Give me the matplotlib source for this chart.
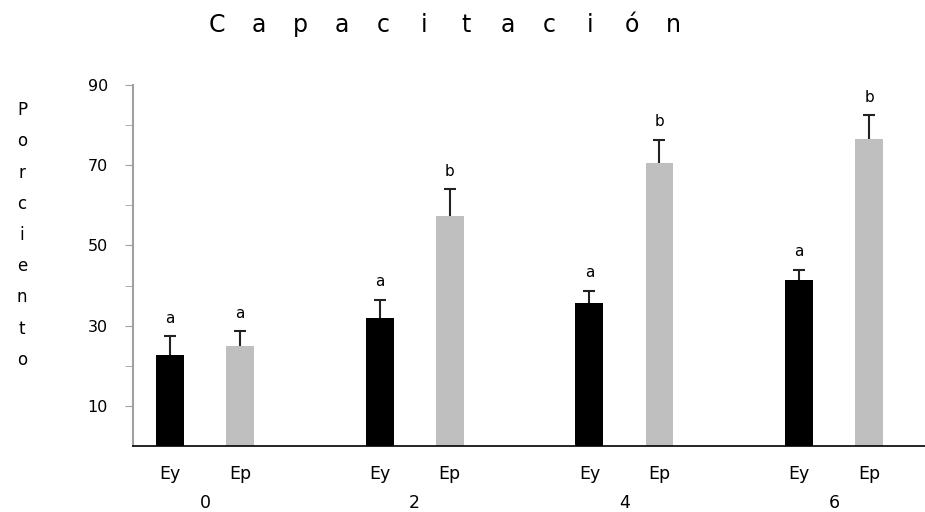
import numpy as np
import matplotlib.pyplot as plt

plt.rcParams['font.family'] = ['DejaVu Sans']

groups = ['0', '2', '4', '6']
ey_vals = [22.8, 31.8, 35.7, 41.5]
ep_vals = [24.9, 57.4, 70.6, 76.5]
ey_err = [4.5, 4.7, 3.0, 2.4]
ep_err = [3.7, 6.6, 5.8, 5.9]
ey_sig = ['a', 'a', 'a', 'a']
ep_sig = ['a', 'b', 'b', 'b']
title = 'Capacitación'
ylabel = 'Porciento'

fig = plt.figure(figsize=(9.25, 5.12), dpi=100)
ax = fig.add_axes([133/925, 1 - 446/512, 1 - 133/925, (446 - 85)/512])

x = np.arange(len(groups))
off = 0.167
w = 0.133
ax.bar(x - off, ey_vals, w, color='black', zorder=2)
ax.bar(x + off, ep_vals, w, color='#bfbfbf', zorder=2)
for xs, vals, errs in [(x - off, ey_vals, ey_err), (x + off, ep_vals, ep_err)]:
    eb = ax.errorbar(xs, vals, yerr=[np.zeros(4), errs], fmt='none',
                     ecolor='#222222', elinewidth=1.5, capsize=4.5,
                     capthick=1.5, zorder=1)
    eb[1][0].set_visible(False)

for xi, v, e, s in zip(x - off, ey_vals, ey_err, ey_sig):
    ax.annotate(s, (xi, v + e), xytext=(0, 13), textcoords='offset points',
                ha='center', va='center', fontsize=11)
for xi, v, e, s in zip(x + off, ep_vals, ep_err, ep_sig):
    ax.annotate(s, (xi, v + e), xytext=(0, 13), textcoords='offset points',
                ha='center', va='center', fontsize=11)

ax.set_xlim(-0.343, 3.433)
ax.set_ylim(0, 90)
ax.set_yticks([10, 30, 50, 70, 90])
ax.set_yticks([20, 40, 60, 80], minor=True)
ax.tick_params(axis='y', which='both', length=6, color='#a0a0a0', pad=12,
               labelsize=11.5)
ax.set_xticks(np.concatenate([x - off, x + off]))
ax.set_xticklabels(['Ey'] * 4 + ['Ep'] * 4, fontsize=12.5)
ax.tick_params(axis='x', length=0, pad=14)
for xi, g in zip(x, groups):
    ax.annotate(g, (xi, 0), xytext=(0, -41), textcoords='offset points',
                ha='center', va='center', fontsize=12.5)

ax.spines['top'].set_visible(False)
ax.spines['right'].set_visible(False)
ax.spines['left'].set_color('#a0a0a0')
ax.spines['left'].set_linewidth(1.5)
ax.spines['bottom'].set_color('black')
ax.spines['bottom'].set_linewidth(1.2)

# spaced-out title and stacked y label
for i, ch in enumerate(title):
    fig.text((217 + i * 41.5) / 925, 1 - 25/512, ch, ha='center', va='center',
             fontsize=17)
for i, ch in enumerate(ylabel):
    fig.text(22/925, 1 - (110 + i * 31.25)/512, ch, ha='center', va='center',
             fontsize=12)

fig.savefig('out.png', dpi=100)
